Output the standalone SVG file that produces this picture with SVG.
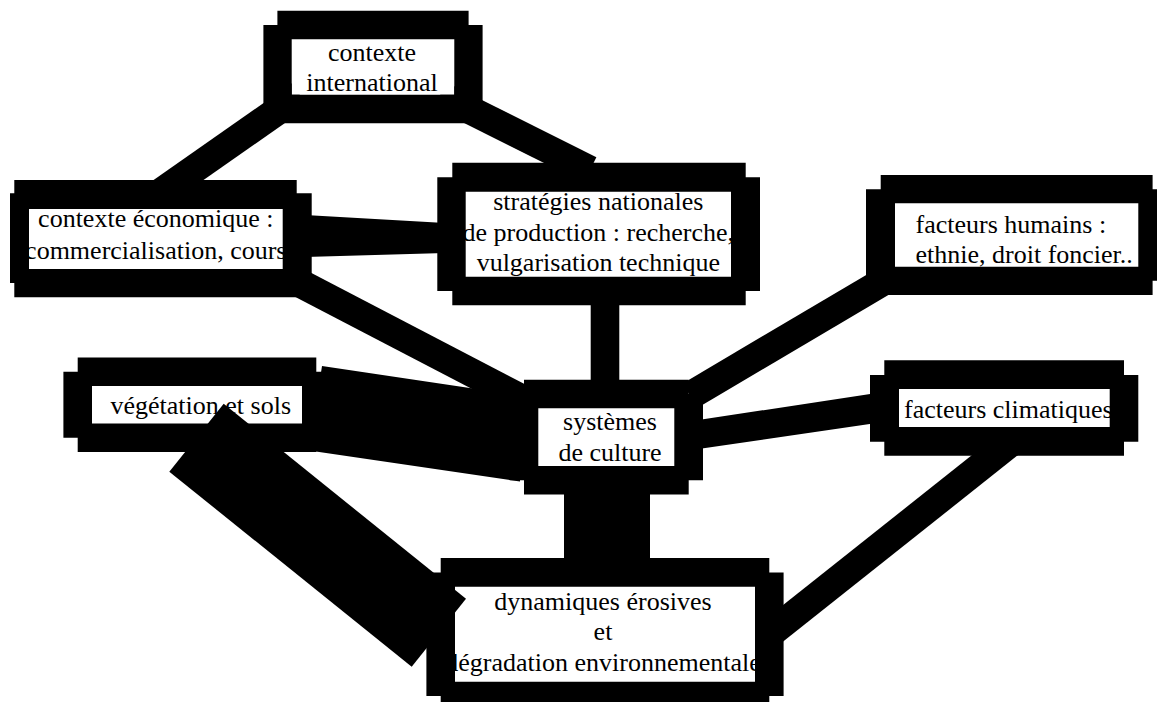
<svg xmlns="http://www.w3.org/2000/svg" width="1157" height="702" viewBox="0 0 1157 702">
  <style>
    .link { stroke: #000; stroke-width: 28.6; stroke-linecap: butt; fill: none; }
    .band { fill: #000; }
    .frame { fill: #000; fill-rule: evenodd; }
    .pad { fill: #fff; }
    text { font-family: 'Liberation Serif', 'DejaVu Serif', serif; font-size: 26px; fill: #000; }
    .mid { text-anchor: middle; }
  </style>
  <rect width="1157" height="702" fill="#fff"/>

  <!-- links drawn beneath the boxes -->
  <g id="connectors">
    <line class="link" x1="300" y1="95" x2="150" y2="200"/>
    <line class="link" x1="440" y1="95" x2="590" y2="170"/>
    <polygon class="band" points="305,215 445,223 445,253 305,257"/>
    <line class="link" x1="290" y1="278" x2="530" y2="403"/>
    <line class="link" x1="605" y1="300" x2="605" y2="385"/>
    <line class="link" x1="890" y1="277.5" x2="690" y2="395.7"/>
    <polygon class="band" points="695,420.6 880,392.5 880,422.5 695,449.5"/>
    <polygon class="band" points="322,366 520,395.5 520,481.5 309,450.6"/>
    <rect class="band" x="564" y="490" width="86" height="72"/>
    <line class="link" x1="1020.3" y1="435" x2="762" y2="640"/>
  </g>

  <g id="n-international" font-family="Liberation Serif">
    <rect class="pad" x="291.7" y="39.3" width="162.6" height="55.4"/>
    <text class="mid" x="372" y="61">contexte</text>
    <text class="mid" x="372" y="91">international</text>
    <path class="frame" d="M277.4 10.7H468.6V25H482.6V109H468.6V123.3H277.4V109H263.4V25H277.4Z M291.7 39.3V94.7H454.3V39.3Z"/>
  </g>

  <g id="n-economique" font-family="Liberation Serif">
    <rect class="pad" x="29" y="209" width="253.7" height="60"/>
    <text class="mid" x="155.8" y="227">contexte économique :</text>
    <text class="mid" x="155.8" y="258.5">commercialisation, cours</text>
    <path class="frame" d="M14.3 180H296.7V193.3H311.7V283H296.7V297.3H14.3V283H10V193.3H14.3Z M29 209V269H282.7V209Z"/>
  </g>

  <g id="n-strategies" font-family="Liberation Serif">
    <rect class="pad" x="465.7" y="191.7" width="265.3" height="85"/>
    <text class="mid" x="598.3" y="210">stratégies nationales</text>
    <text class="mid" x="598.3" y="240.5">de production : recherche,</text>
    <text class="mid" x="598.3" y="271">vulgarisation technique</text>
    <path class="frame" d="M452.3 162.7H745.7V177.3H760V291H745.7V305.3H452.3V291H437.3V177.3H452.3Z M465.7 191.7V276.7H731V191.7Z"/>
  </g>

  <g id="n-humains" font-family="Liberation Serif">
    <rect class="pad" x="895" y="203.3" width="243.3" height="63.4"/>
    <text x="915.5" y="233">facteurs humains :</text>
    <text x="915.5" y="263">ethnie, droit foncier..</text>
    <path class="frame" d="M880.7 175H1152.6V189.3H1167V280.7H1152.6V295H880.7V280.7H866V189.3H880.7Z M895 203.3V266.7H1138.3V203.3Z"/>
  </g>

  <g id="n-vegetation" font-family="Liberation Serif">
    <rect class="pad" x="92" y="386" width="210" height="37.5"/>
    <text x="110.5" y="414">végétation et sols</text>
    <path class="frame" d="M77.7 357.4H316.3V371.7H330.6V437.8H316.3V452H77.7V437.8H63.4V371.7H77.7Z M92 386V423.5H302V386Z"/>
  </g>

  <g id="n-systemes" font-family="Liberation Serif">
    <rect class="pad" x="538.3" y="408.3" width="136" height="57.7"/>
    <text class="mid" x="610" y="430">systèmes</text>
    <text class="mid" x="610" y="461">de culture</text>
    <path class="frame" d="M524 379.7H688.7V394H703V480.3H688.7V494.6H524V480.3H509.7V394H524Z M538.3 408.3V466H674.3V408.3Z"/>
  </g>

  <g id="n-climatiques" font-family="Liberation Serif">
    <rect class="pad" x="899" y="389" width="210.7" height="38"/>
    <text x="904" y="418">facteurs climatiques</text>
    <path class="frame" d="M884.3 360.3H1124V375H1138.3V441.7H1124V455.7H884.3V441.7H870V375H884.3Z M899 389V427H1109.7V389Z"/>
  </g>

  <g id="n-dynamiques" font-family="Liberation Serif">
    <rect class="pad" x="455" y="586.7" width="300" height="95"/>
    <text class="mid" x="603" y="610">dynamiques érosives</text>
    <text class="mid" x="603" y="640">et</text>
    <text class="mid" x="603" y="671">dégradation environnementale</text>
    <path class="frame" d="M440.7 558H769.3V572.4H783.6V696H769.3V710H440.7V696H426.4V572.4H440.7Z M455 586.7V681.7H755V586.7Z"/>
  </g>

  <!-- wide bar from vegetation to erosion, drawn over both boxes -->
  <g id="connectors-over">
    <polygon class="band" points="169.3,471.7 223.7,403.7 466,598.8 411.7,666.7"/>
  </g>
</svg>
